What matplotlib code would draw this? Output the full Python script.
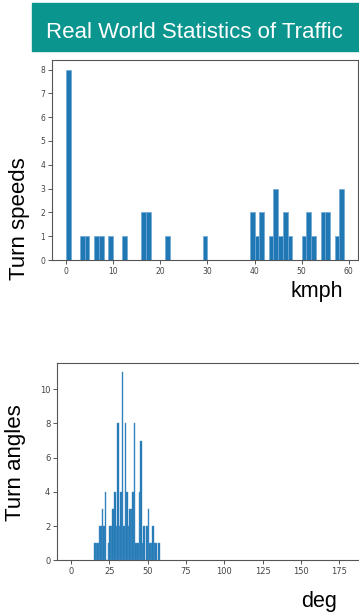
import matplotlib
matplotlib.use("Agg")
import matplotlib.pyplot as plt
from matplotlib.patches import Rectangle

# ---- data ----
title = "Real World Statistics of Traffic"
speed_label = "Turn speeds"
speed_unit = "kmph"
angle_label = "Turn angles"
angle_unit = "deg"

speed_bins = [0, 3, 4, 6, 7, 9, 12, 16, 17, 21, 29, 39, 40, 41, 43, 44, 45, 46, 47, 50, 51, 52, 54, 55, 57, 58]
speed_counts = [8, 1, 1, 1, 1, 1, 1, 2, 2, 1, 1, 2, 1, 2, 1, 3, 1, 2, 1, 1, 2, 1, 2, 2, 1, 3]

angle_bins = list(range(15, 58))
angle_counts = [1, 1, 1, 2, 2, 3, 2, 4, 0, 1,
                2, 2, 3, 4, 2, 8, 2, 4, 11, 2,
                8, 4, 2, 3, 3, 4, 8, 1, 1, 4,
                7, 1, 2, 0, 2, 3, 1, 1, 2, 1,
                1, 0, 1]
angle_range = [0, 180]
speed_yticks = [0, 1, 2, 3, 4, 5, 6, 7, 8]
speed_xticks = [0, 10, 20, 30, 40, 50, 60]
angle_yticks = [0, 2, 4, 6, 8, 10]
angle_xticks = [0, 25, 50, 75, 100, 125, 150, 175]

W, H = 359, 612
fig = plt.figure(figsize=(W / 100, H / 100), dpi=100)

def fx(x):
    return x / W

def fy(y):
    return 1 - y / H

# header band
fig.patches.append(Rectangle((fx(32.3), fy(50.7)), 1, (50.7 - 3.3) / H,
                             transform=fig.transFigure, color="#0a958f", zorder=1))
fig.text(fx(46.5), fy(37.5), title, color="white", fontsize=16,
         family="Liberation Sans", ha="left", va="baseline", zorder=2)

spine_col = "#555555"
tick_col = "#444444"
bar_col = "#1f77b4"

def style(ax, fs):
    ax.set_facecolor("none")
    for s in ax.spines.values():
        s.set_color(spine_col)
        s.set_linewidth(0.8)
    ax.tick_params(colors=spine_col, labelcolor=tick_col, labelsize=fs,
                   length=3, width=0.7, pad=2)

# top: speeds
ax1 = fig.add_axes([fx(52), fy(260), fx(358 - 52), (260 - 60) / H])
ax1.bar(speed_bins, speed_counts, width=1, align="edge", color=bar_col,
        edgecolor="#6fa8d6", linewidth=0.5)
ax1.set_xticks(speed_xticks)
ax1.set_yticks(speed_yticks)
style(ax1, 5.5)

# bottom: angles
ax2 = fig.add_axes([fx(57.3), fy(560.3), fx(360.8 - 57.3), (560.3 - 362.7) / H])
ax2.bar(angle_bins, angle_counts, width=1, align="edge", color=bar_col,
        edgecolor="#4a90c8", linewidth=0.3)
ax2.set_xlim(angle_range[0] - 0.05 * (angle_range[1] - angle_range[0]),
             angle_range[1] + 0.05 * (angle_range[1] - angle_range[0]))
ax2.set_xticks(angle_xticks)
ax2.set_yticks(angle_yticks)
style(ax2, 6)

# labels placed on slide
fig.text(fx(20), fy(219), speed_label, rotation=90, fontsize=16,
         family="Liberation Sans", ha="center", va="center", color="black")
fig.text(fx(316.5), fy(291), speed_unit, fontsize=15.5,
         family="Liberation Sans", ha="center", va="center", color="black")
fig.text(fx(16), fy(463), angle_label, rotation=90, fontsize=16,
         family="Liberation Sans", ha="center", va="center", color="black")
fig.text(fx(318.7), fy(601), angle_unit, fontsize=15.5,
         family="Liberation Sans", ha="center", va="center", color="black")

fig.savefig("out.png", dpi=100)
